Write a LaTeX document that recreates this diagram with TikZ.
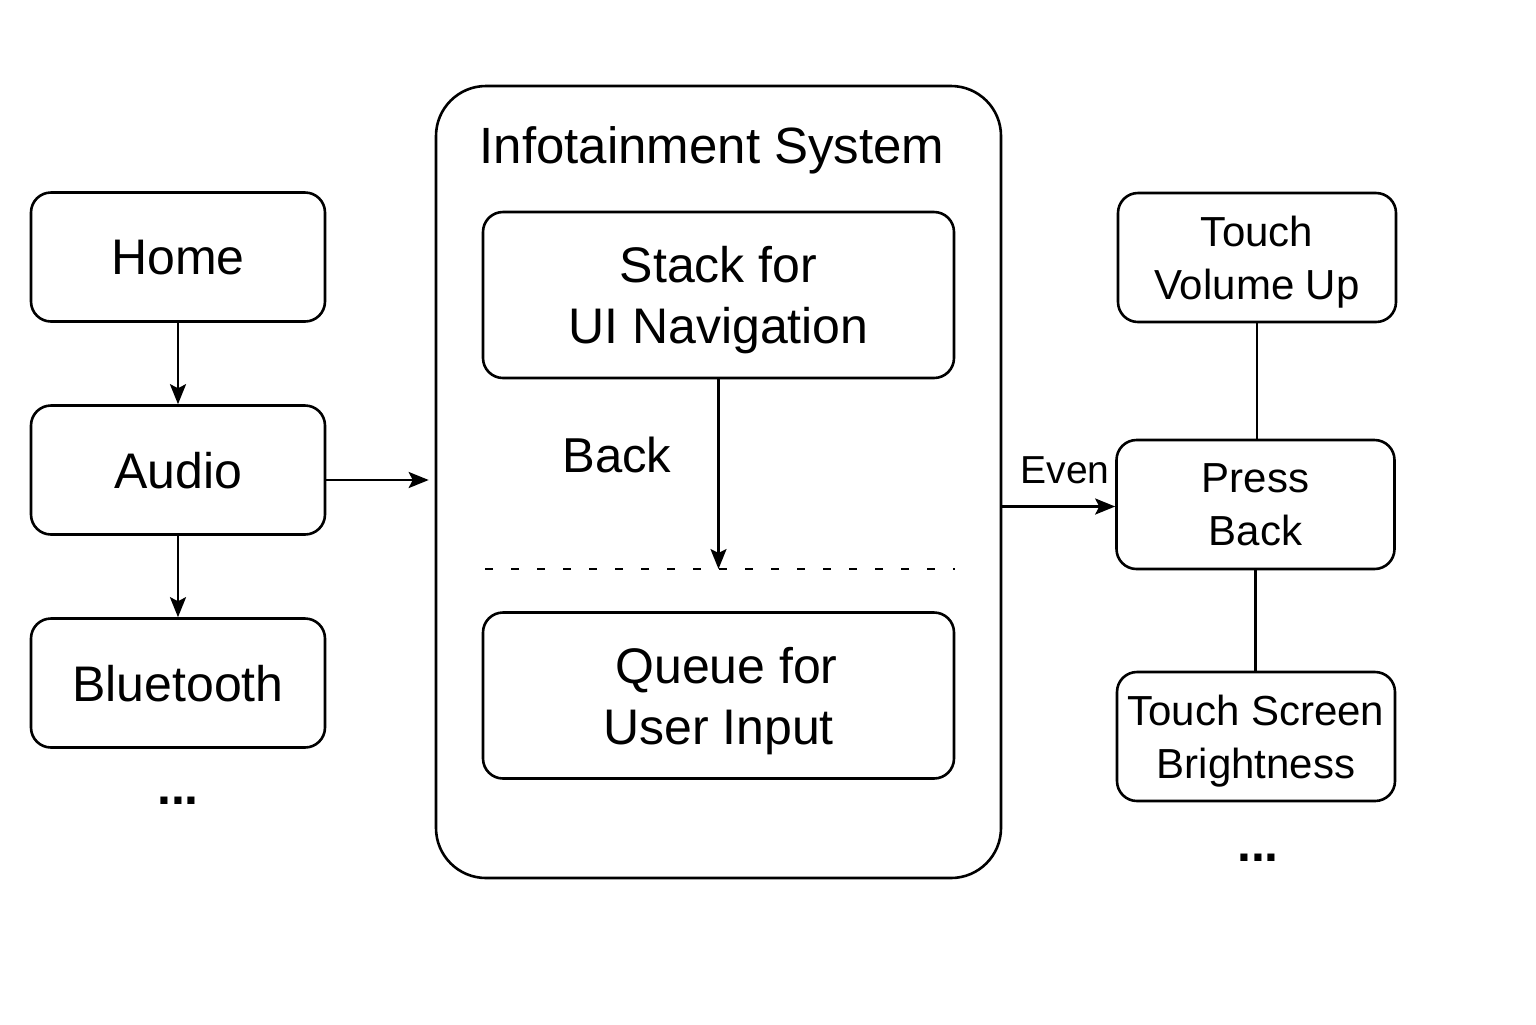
\documentclass[tikz,border=0pt]{standalone}
\usepackage{fontspec}
\setmainfont{Liberation Sans}
\usetikzlibrary{arrows.meta,positioning}

\begin{document}
\begin{tikzpicture}[x=0.5pt,y=-0.5pt,
    box/.style={draw,line width=1.3pt,rounded corners=10pt,align=center,inner sep=0pt,text depth=0pt},
    menu/.style={box,minimum width=147pt,minimum height=64.5pt,font=\fontsize{25}{30}\selectfont},
    store/.style={box,minimum width=235.5pt,minimum height=83pt,font=\fontsize{25}{30.5}\selectfont},
    event/.style={box,minimum width=139pt,minimum height=64.5pt,font=\fontsize{21}{26.5}\selectfont},
    plain/.style={font=\fontsize{25}{30}\selectfont,inner sep=0pt},
    arr/.style={line width=1.25pt,-{Stealth[length=10pt,width=8pt,inset=2pt]}},
    link/.style={line width=1.25pt}]
  \useasboundingbox (0,0) rectangle (1536,1024);

  % screens on the left
  \node[menu] (home) at (178,257) {Home};
  \node[menu] (audio) at (178,470) {Audio};
  \node[menu] (bt) at (178,683) {Bluetooth};
  \node[plain,font=\fontsize{25}{30}\bfseries] (ldots) at (178,801) {...};
  \draw[arr] (home) -- (audio);
  \draw[arr] (audio) -- (bt);

  % the system
  \node[draw,line width=1.3pt,rounded corners=25pt,minimum width=282.5pt,minimum height=396pt] (sys) at (718.5,482) {};
  \node[plain,font=\fontsize{25.5}{30}\selectfont] (systitle) at (712,150) {Infotainment System};
  \node[store] (stack) at (718.5,295) {Stack for\\UI Navigation};
  \node[store] (queue) at (718.5,695.5) {\hspace*{8pt}Queue for\\User Input};
  \coordinate (dashl) at (485,569);
  \coordinate (dashr) at (955,569);
  \draw[line width=1.4pt,dash pattern=on 4pt off 9pt] (dashl) -- (dashr);
  \draw[arr] (stack.south) -- (stack.south |- dashl);
  \node[plain,font=\fontsize{24.5}{30}\selectfont] (backlbl) at (617,455) {Back};
  \draw[arr] ([yshift=-5pt]audio.east) -- ([yshift=-5pt,xshift=-3pt]audio.east -| sys.west);

  % events on the right
  \node[event] (vol) at (1257,257.5) {Touch\\Volume Up};
  \node[event] (press) at (1255.5,504.5) {Press\\Back};
  \node[event] (bright) at (1256,736.5) {Touch Screen\\Brightness};
  \node[plain,font=\fontsize{25}{30}\bfseries] (rdots) at (1258,858) {...};
  \draw[link] (vol.south) -- (vol.south |- press.north);
  \draw[link] (press.south) -- (press.south |- bright.north);
  \draw[arr] ([yshift=-1pt]sys.east |- press.west) -- ([yshift=-1pt]press.west);
  \node[plain,font=\fontsize{19.5}{24}\selectfont] (evlbl) at (1065,470) {Even};
\end{tikzpicture}
\end{document}
